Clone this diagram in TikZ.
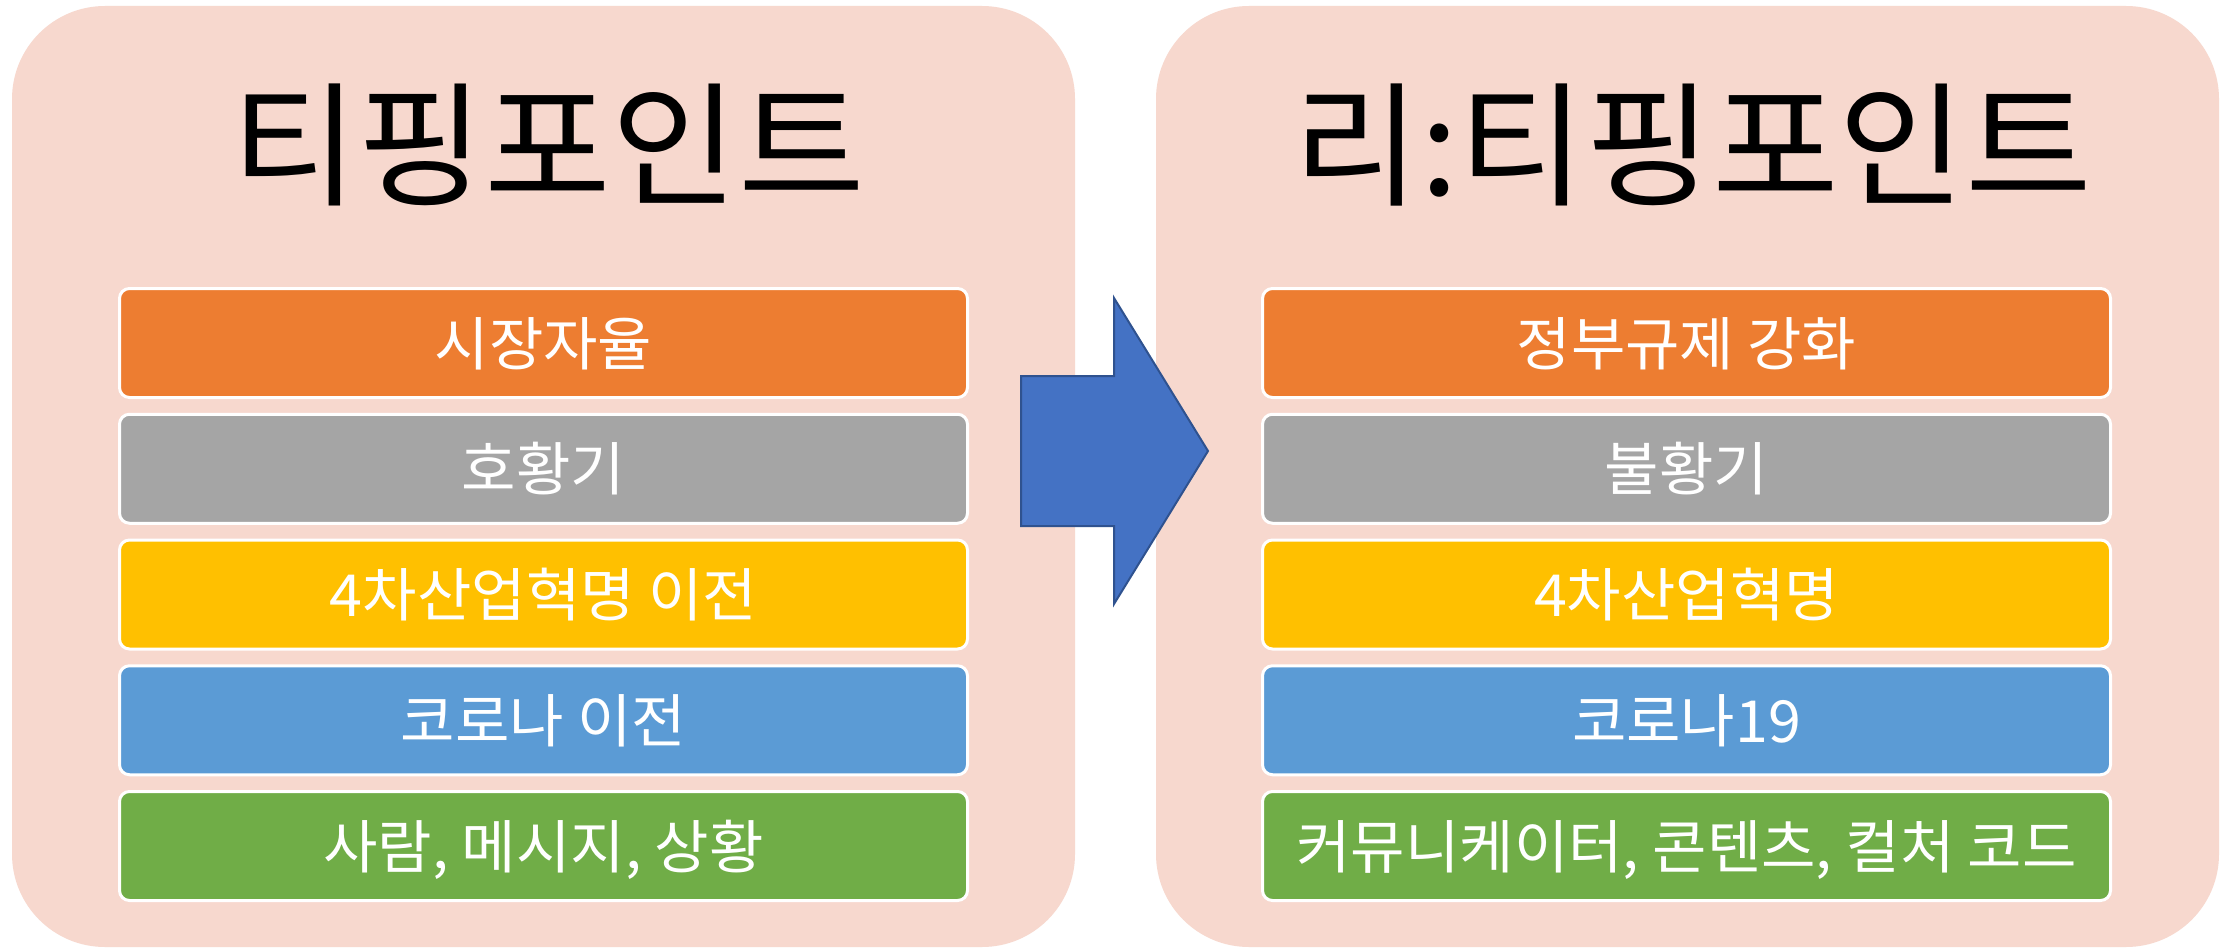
\documentclass[tikz,border=0pt]{standalone}
\usepackage{fontspec}
\newfontfamily\kr{Noto Sans CJK KR}[FakeStretch=1.02]
\definecolor{panelc}{HTML}{F7D8CE}
\definecolor{c1}{HTML}{ED7D31}
\definecolor{c2}{HTML}{A5A5A5}
\definecolor{c3}{HTML}{FFC000}
\definecolor{c4}{HTML}{5B9BD5}
\definecolor{c5}{HTML}{70AD47}
\definecolor{arrowfill}{HTML}{4472C4}
\definecolor{arrowline}{HTML}{2F528F}
\begin{document}
\begin{tikzpicture}[x=1pt,y=-1pt,
  panel/.style={rectangle, rounded corners=93pt, fill=panelc, minimum width=1063pt, minimum height=941pt, inner sep=0pt},
  titletext/.style={inner sep=0pt, text=black, font=\kr\fontsize{135}{135}\selectfont, text height=112pt, text depth=9.5pt},
  itembox/.style={rectangle, rounded corners=10pt, draw=white, line width=3pt, minimum width=848pt, minimum height=109pt, inner sep=0pt, text=white, font=\kr\fontsize{58}{58}\selectfont, text height=48pt, text depth=4pt},
  bigarrow/.style={fill=arrowfill, draw=arrowline, line width=2pt, line join=miter}
]
\useasboundingbox (0,0) rectangle (2229,952);
\fill[white] (0,0) rectangle (2229,952);

\node[panel] (lp) at (543.5,476.5) {};
\node[panel] (rp) at (1687.5,476.5) {};

\node[titletext] (lt) at (548,144) {티핑포인트};
\node[titletext] (rt) at (1693,144) {리:티핑포인트};

\node[itembox, fill=c1] (l1) at (543.5,343) {시장자율};
\node[itembox, fill=c2] (l2) at (543.5,468.75) {호황기};
\node[itembox, fill=c3] (l3) at (543.5,594.5) {4차산업혁명 이전};
\node[itembox, fill=c4] (l4) at (543.5,720.25) {코로나 이전};
\node[itembox, fill=c5] (l5) at (543.5,846) {사람, 메시지, 상황};

\node[itembox, fill=c1] (r1) at (1686.5,343) {정부규제 강화};
\node[itembox, fill=c2] (r2) at (1686.5,468.75) {불황기};
\node[itembox, fill=c3] (r3) at (1686.5,594.5) {4차산업혁명};
\node[itembox, fill=c4] (r4) at (1686.5,720.25) {코로나19};
\node[itembox, fill=c5] (r5) at (1686.5,846) {커뮤니케이터, 콘텐츠, 컬처 코드};

\draw[bigarrow] (1021,376) -- (1114,376) -- (1114,298) -- (1208,451) -- (1114,604) -- (1114,526) -- (1021,526) -- cycle;
\end{tikzpicture}
\end{document}
